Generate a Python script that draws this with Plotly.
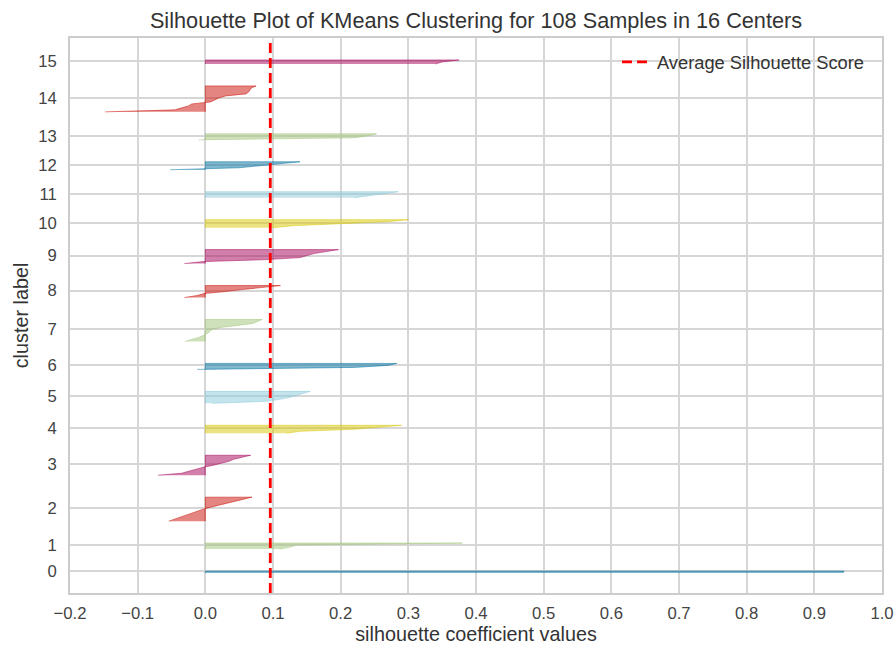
import plotly.graph_objects as go

# Sorted silhouette coefficient values for each cluster
cluster_0 = [0.942, 0.944]
cluster_1 = [0.11, 0.125, 0.135, 0.38]
cluster_2 = [-0.054, -0.045, -0.037, -0.03, -0.02, -0.012, -0.003, 0.008, 0.02, 0.033, 0.045, 0.056, 0.069]
cluster_3 = [-0.07, -0.035, -0.025, -0.015, -0.003, 0.012, 0.025, 0.035, 0.042, 0.055, 0.067]
cluster_4 = [0.12, 0.14, 0.22, 0.26, 0.29]
cluster_5 = [0.01, 0.09, 0.11, 0.125, 0.135, 0.145, 0.155]
cluster_6 = [-0.012, 0.22, 0.27, 0.283]
cluster_7 = [-0.03, -0.02, -0.01, -0.003, 0.003, 0.006, 0.01, 0.022, 0.047, 0.07, 0.078, 0.084]
cluster_8 = [-0.031, -0.012, -0.002, 0.03, 0.055, 0.08, 0.111]
cluster_9 = [-0.031, -0.003, 0.09, 0.14, 0.15, 0.16, 0.175, 0.197]
cluster_10 = [0.1, 0.13, 0.2, 0.27, 0.3]
cluster_11 = [0.22, 0.245, 0.265, 0.285]
cluster_12 = [-0.052, 0.05, 0.08, 0.11, 0.14]
cluster_13 = [-0.01, 0.22, 0.24, 0.253]
cluster_14 = [-0.148, -0.045, -0.035, -0.025, -0.02, 0.008, 0.015, 0.02, 0.03, 0.06, 0.064, 0.066, 0.068, 0.075]
cluster_15 = [0.34, 0.35, 0.375]

clusters = [cluster_0, cluster_1, cluster_2, cluster_3, cluster_4, cluster_5, cluster_6, cluster_7,
            cluster_8, cluster_9, cluster_10, cluster_11, cluster_12, cluster_13, cluster_14, cluster_15]
cluster_labels = [str(i) for i in range(len(clusters))]

average_score = 0.096

x_tick_values = [-0.2, -0.1, 0.0, 0.1, 0.2, 0.3, 0.4, 0.5, 0.6, 0.7, 0.8, 0.9, 1.0]
x_tick_labels = ["\u22120.2", "\u22120.1", "0.0", "0.1", "0.2", "0.3", "0.4", "0.5", "0.6", "0.7", "0.8", "0.9", "1.0"]

palette = ["#0272a2", "#9fc377", "#ca0b03", "#a50258", "#d7c703", "#88cada"]


def rgba(hex_color, a):
    h = hex_color.lstrip("#")
    r, g, b = int(h[0:2], 16), int(h[2:4], 16), int(h[4:6], 16)
    return f"rgba({r},{g},{b},{a})"


n_samples = sum(len(c) for c in clusters)
n_clusters = len(clusters)

fig = go.Figure()

y_lower = 10
y_tick_pos = []
for idx, values in enumerate(clusters):
    vals = sorted(values)
    size = len(vals)
    ys = list(range(y_lower, y_lower + size))
    color = palette[idx % len(palette)]
    px_x = [0, 0] + vals[::-1]
    px_y = [ys[0], ys[-1]] + ys[::-1]
    fig.add_trace(go.Scatter(
        x=px_x, y=px_y, mode="lines", fill="toself",
        fillcolor=rgba(color, 0.5),
        line=dict(color=rgba(color, 0.5), width=1),
        showlegend=False, hoverinfo="skip",
    ))
    y_tick_pos.append(y_lower + 0.5 * size)
    y_lower = y_lower + size + 10

y_max = n_samples + (n_clusters + 1) * 10

fig.add_trace(go.Scatter(
    x=[average_score, average_score], y=[0, y_max], mode="lines",
    line=dict(color="red", width=2.8, dash="10px,5px"),
    name="Average Silhouette Score", showlegend=True,
))

grid_color = "#d6d6d6"
axis_common = dict(
    showgrid=True, gridcolor=grid_color, gridwidth=1.6,
    zeroline=False, showline=True, linecolor="#cccccc", linewidth=1.8, mirror=True,
    ticks="", tickfont=dict(size=16.7, color="#444444"), automargin=False,
)

fig.update_layout(
    width=895, height=648,
    margin=dict(l=70, r=13, t=38, b=55, autoexpand=False),
    plot_bgcolor="white", paper_bgcolor="white",
    font=dict(family="Liberation Sans, Arial, sans-serif", color="#333333"),
    title=dict(
        text=f"Silhouette Plot of KMeans Clustering for {n_samples} Samples in {n_clusters} Centers",
        x=0.5, xref="paper", xanchor="center",
        y=1 - 20 / 648, yref="container", yanchor="middle",
        font=dict(size=21.7, color="#333333"),
    ),
    xaxis=dict(range=[-0.2, 1.0], tickvals=x_tick_values, ticktext=x_tick_labels,
               ticklabelstandoff=4,
               title=dict(text="silhouette coefficient values", font=dict(size=19.8, color="#333333"), standoff=4),
               **axis_common),
    yaxis=dict(range=[0, y_max], tickvals=y_tick_pos, ticktext=cluster_labels,
               ticklabelstandoff=8,
               title=dict(text="cluster label", font=dict(size=19.8, color="#333333"), standoff=4),
               **axis_common),
    legend=dict(x=0.984, y=0.99, xanchor="right", yanchor="top",
                bgcolor="rgba(0,0,0,0)", font=dict(size=18.3, color="#333333")),
)

fig.write_html("out.html")
